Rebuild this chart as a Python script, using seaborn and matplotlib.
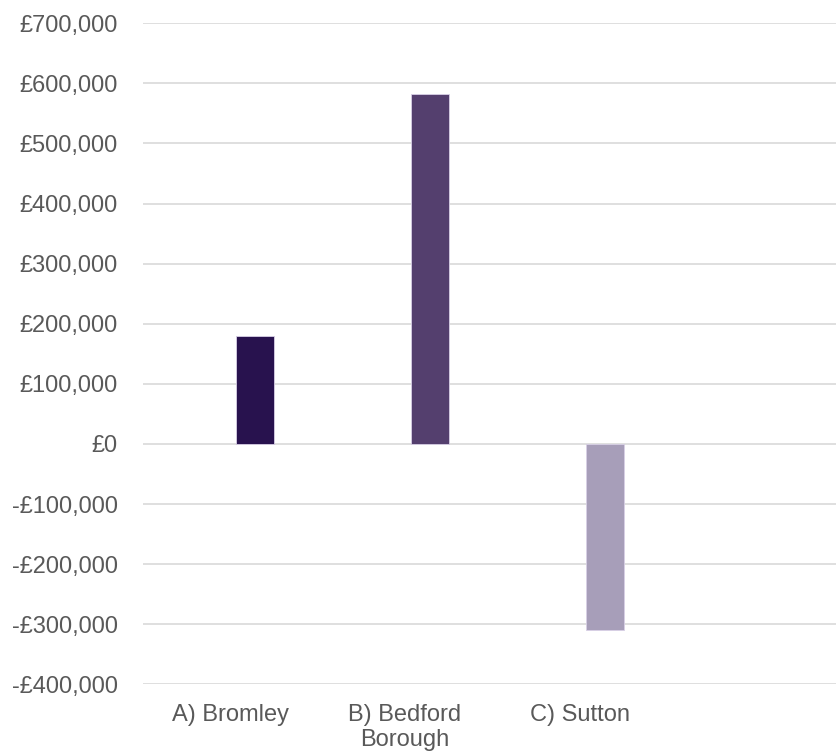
import matplotlib
matplotlib.use("Agg")
import matplotlib.pyplot as plt
import matplotlib.ticker as mticker
import matplotlib.transforms as mtransforms
import seaborn as sns
import pandas as pd

# Data
areas = ["A) Bromley", "B) Bedford\nBorough", "C) Sutton"]
values = [180000, 582000, -310000]
colors = ["#250858", "#533776", "#A69ABD"]
y_ticks = [-400000, -300000, -200000, -100000, 0, 100000, 200000, 300000, 400000, 500000, 600000, 700000]

df = pd.DataFrame({"area": areas, "value": values})

sns.set_theme(style="white")
plt.rcParams["font.family"] = ["Liberation Sans", "DejaVu Sans"]

fig = plt.figure(figsize=(8.36, 7.52), dpi=100)
ax = fig.add_axes([143 / 836, (752 - 684.3) / 752, (836 - 143) / 836, (684.3 - 23.3) / 752])

sns.barplot(data=df, x="area", y="value", hue="area", palette=colors,
            width=0.217, legend=False, ax=ax, edgecolor="#d8d0e6", linewidth=0.6,
            zorder=3)

ax.set_ylim(-400000, 700000)
ax.set_xlim(-0.64, 3.32)
ax.set_yticks(y_ticks)


def money(v, _pos):
    if v < 0:
        return "-£{:,.0f}".format(-v)
    return "£{:,.0f}".format(v)


ax.yaxis.set_major_formatter(mticker.FuncFormatter(money))
ax.grid(axis="y", color="#D9D9D9", linewidth=1.2, zorder=0)
ax.grid(axis="x", visible=False)
for s in ax.spines.values():
    s.set_visible(False)

ax.tick_params(axis="y", length=0, pad=18, labelsize=17, labelcolor="#595959")
ax.tick_params(axis="x", length=0, pad=14, labelsize=17, labelcolor="#595959")
ax.set_xlabel("")
ax.set_ylabel("")

# category labels sit slightly left of their bars
shift = mtransforms.ScaledTranslation(-25 / 100, 0, fig.dpi_scale_trans)
for lbl in ax.get_xticklabels():
    lbl.set_linespacing(1.2)
    lbl.set_transform(lbl.get_transform() + shift)

fig.savefig("out.png", dpi=100, facecolor="white")
